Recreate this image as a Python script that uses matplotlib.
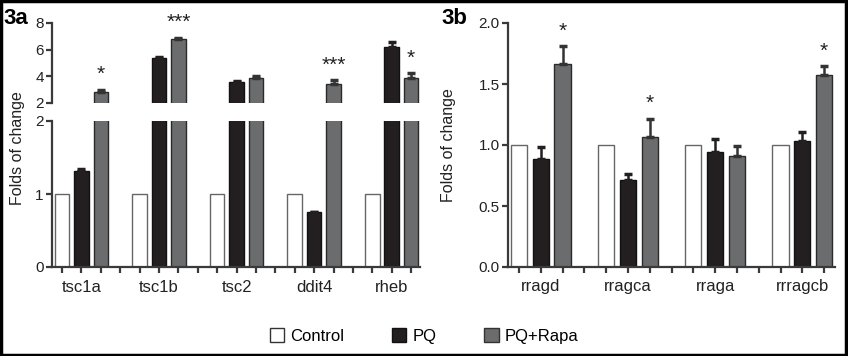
import matplotlib.pyplot as plt
from matplotlib.patches import Patch, Rectangle
import numpy as np

plt.rcParams['font.family'] = ['Liberation Sans', 'DejaVu Sans']

# panel 3a data
genes_a = ['tsc1a', 'tsc1b', 'tsc2', 'ddit4', 'rheb']
ctrl_a = [1.0, 1.0, 1.0, 1.0, 1.0]
pq_a = [1.32, 5.35, 3.55, 0.75, 6.2]
pq_a_err = [0.02, 0.08, 0.1, 0.0, 0.35]
rapa_a = [2.85, 6.8, 3.88, 3.4, 3.85]
rapa_a_err = [0.15, 0.1, 0.15, 0.3, 0.4]
stars_a = ['*', '***', '', '***', '*']

# panel 3b data
genes_b = ['rragd', 'rragca', 'rraga', 'rrragcb']
ctrl_b = [1.0, 1.0, 1.0, 1.0]
pq_b = [0.885, 0.71, 0.94, 1.03]
pq_b_err = [0.1, 0.05, 0.11, 0.08]
rapa_b = [1.66, 1.065, 0.91, 1.575]
rapa_b_err = [0.15, 0.15, 0.08, 0.07]
stars_b = ['*', '*', '', '*']

c_ctrl = 'white'
c_pq = '#231f20'
c_rapa = '#6b6c6e'
c_axis = '#3a3a3a'
W = 0.75

fig = plt.figure(figsize=(8.48, 3.56), dpi=100)


def draw_bars(ax, n, ctrl, pq, pq_err, rapa, rapa_err):
    x = np.arange(n) * 4
    ax.bar(x, ctrl, W, color=c_ctrl, edgecolor='#666666', linewidth=1)
    ax.bar(x + 1, pq, W, color=c_pq, edgecolor='#111111', linewidth=1)
    ax.bar(x + 2, rapa, W, color=c_rapa, edgecolor='#2a2a2a', linewidth=1)
    ax.errorbar(x + 1, pq, yerr=[np.zeros(n), pq_err], fmt='none',
                ecolor=c_pq, elinewidth=1.8, capsize=3, capthick=2.5)
    ax.errorbar(x + 2, rapa, yerr=[np.zeros(n), rapa_err], fmt='none',
                ecolor='#333333', elinewidth=1.8, capsize=3, capthick=2.5)
    return x


def style(ax):
    for s in ['top', 'right']:
        ax.spines[s].set_visible(False)
    for s in ['left', 'bottom']:
        ax.spines[s].set_color(c_axis)
        ax.spines[s].set_linewidth(1.6)
    ax.tick_params(colors=c_axis, width=1.6, length=4, labelsize=11,
                   labelcolor='#222222', pad=2)


def gene_ticks(ax, genes):
    n = len(genes) * 4 - 1
    labels = [''] * n
    for i, g in enumerate(genes):
        labels[i * 4 + 1] = g
    ax.set_xticks(np.arange(n))
    ax.set_xticklabels(labels)
    ax.tick_params(axis='x', labelsize=12, pad=5)


def put_stars(ax, x, tops, stars):
    for xi, t, s in zip(x, tops, stars):
        if s:
            ax.annotate(s, (xi, t), xytext=(0, 4), textcoords='offset points',
                        ha='center', va='bottom', fontsize=15,
                        color='#222222', annotation_clip=False)


# ---- 3a ----
left_a, width_a = 52 / 848, 368 / 848
ax_lo = fig.add_axes([left_a, 1 - 267 / 356, width_a, 146 / 356])
ax_hi = fig.add_axes([left_a, 1 - 103 / 356, width_a, 80 / 356])
for ax in (ax_lo, ax_hi):
    xa = draw_bars(ax, len(genes_a), ctrl_a, pq_a, pq_a_err, rapa_a, rapa_a_err)
    ax.set_xlim(-0.52, 18.46)
    style(ax)
ax_lo.set_ylim(0, 2)
ax_lo.set_yticks([0, 1, 2])
gene_ticks(ax_lo, genes_a)

ax_hi.set_ylim(2, 8)
ax_hi.set_yticks([2, 4, 6, 8])
ax_hi.spines['bottom'].set_visible(False)
ax_hi.set_xticks([])
put_stars(ax_hi, xa + 2, np.array(rapa_a) + np.array(rapa_a_err), stars_a)

fig.text(18 / 848, 1 - 148 / 356, 'Folds of change', rotation=90,
         ha='center', va='center', fontsize=11.5, color='#222222')
fig.text(3 / 848, 1 - 18 / 356, '3a', fontsize=16, fontweight='heavy',
         ha='left', va='center')

# ---- 3b ----
ax_b = fig.add_axes([508 / 848, 1 - 267 / 356, 327 / 848, 244 / 356])
xb = draw_bars(ax_b, len(genes_b), ctrl_b, pq_b, pq_b_err, rapa_b, rapa_b_err)
ax_b.set_xlim(-0.5, 14.5)
ax_b.set_ylim(0, 2)
ax_b.set_yticks([0, 0.5, 1.0, 1.5, 2.0])
ax_b.set_yticklabels(['0.0', '0.5', '1.0', '1.5', '2.0'])
style(ax_b)
gene_ticks(ax_b, genes_b)
put_stars(ax_b, xb + 2, np.array(rapa_b) + np.array(rapa_b_err), stars_b)

fig.text(449 / 848, 1 - 145 / 356, 'Folds of change', rotation=90,
         ha='center', va='center', fontsize=11.5, color='#222222')
fig.text(441 / 848, 1 - 19 / 356, '3b', fontsize=16, fontweight='heavy',
         ha='left', va='center')

# legend
handles = [Patch(facecolor=c_ctrl, edgecolor='#333333', label='Control'),
           Patch(facecolor=c_pq, edgecolor='#111111', label='PQ'),
           Patch(facecolor=c_rapa, edgecolor='#333333', label='PQ+Rapa')]
fig.legend(handles=handles, loc='center', bbox_to_anchor=(0.5, 1 - 336 / 356),
           ncol=3, frameon=False, fontsize=12, handlelength=0.85,
           handleheight=0.85, handletextpad=0.35, columnspacing=2.9)

# outer frame
fig.patches.append(Rectangle((0.001, 0.002), 0.997, 0.995, transform=fig.transFigure,
                             fill=False, edgecolor='black', linewidth=2.5))

fig.savefig('out.png', dpi=100)
